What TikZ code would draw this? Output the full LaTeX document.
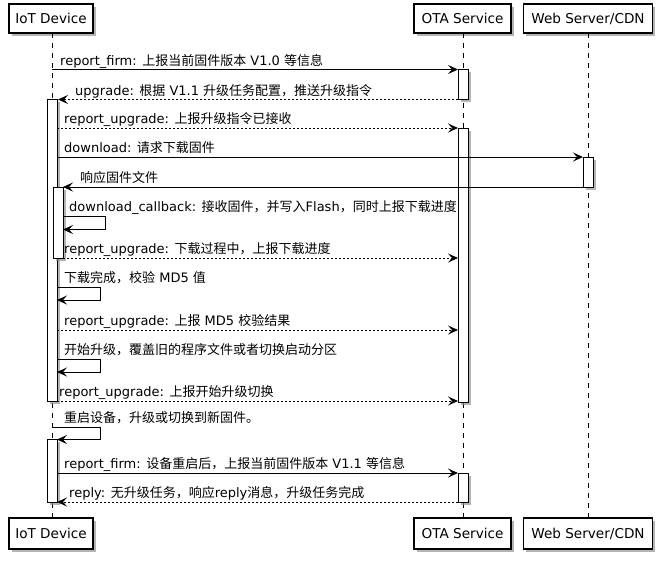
\documentclass[tikz,border=0pt]{standalone}
\usepackage{fontspec}
\setmainfont{DejaVu Sans}
\newfontfamily\cjk{Noto Sans CJK SC}
\newcommand\zh[1]{{\cjk #1}}
\usetikzlibrary{arrows.meta,shadows}
\begin{document}
\begin{tikzpicture}[x=1pt,y=-1pt,
  shad/.style={drop shadow={shadow xshift=2.5pt,shadow yshift=-2.5pt,fill=black!45,opacity=0.65}},
  part/.style={draw,line width=1.2pt,fill=white,inner sep=0pt,shad,font=\fontsize{13.6}{16}\selectfont},
  life/.style={line width=0.9pt,dash pattern=on 5pt off 5pt},
  act/.style={draw,line width=1pt,fill=white,shad},
  msg/.style={line width=1pt,-{Stealth[length=10pt,width=9pt,inset=4pt]}},
  rmsg/.style={msg,dash pattern=on 2pt off 2pt},
  lbl/.style={anchor=base west,inner sep=0pt,font=\fontsize{13}{15}\selectfont}]
\useasboundingbox[fill=white] (0,0) rectangle (660,560);
% participants
\node[part,minimum width=84pt,minimum height=29pt] (iotT) at (51,18.5) {IoT Device};
\node[part,minimum width=97pt,minimum height=29pt] (otaT) at (462.5,18.5) {OTA Service};
\node[part,minimum width=129pt,minimum height=29pt] (webT) at (588,18.5) {Web Server/CDN};
\node[part,minimum width=84pt,minimum height=31pt] (iotB) at (51,533.5) {IoT Device};
\node[part,minimum width=97pt,minimum height=31pt] (otaB) at (462.5,533.5) {OTA Service};
\node[part,minimum width=129pt,minimum height=31pt] (webB) at (588,533.5) {Web Server/CDN};
% lifelines
\draw[life] (52,33) coordinate (iL1) -- (52,518) coordinate (iL2);
\draw[life] (463,33) coordinate (oL1) -- (463,518) coordinate (oL2);
\draw[life] (588,33) coordinate (wL1) -- (588,518) coordinate (wL2);
% activations
\draw[act] (47,99.5) rectangle (57,401) ;
\draw[act] (53,187) rectangle (63,258);
\draw[act] (47,439.5) rectangle (57,502);
\draw[act] (458,69.5) rectangle (468,99.5);
\draw[act] (458,128) rectangle (468,402);
\draw[act] (458,473) rectangle (468,502);
\draw[act] (583,157) rectangle (593,187);
% messages
\path (52,69.5) coordinate (a1) (458,69.5) coordinate (b1);
\draw[msg] (a1) -- (b1);
\node[lbl] (t1) at (60,65) {report\_firm: \zh{上报当前固件版本} V1.0 \zh{等信息}};

\path (458,99.5) coordinate (a2) (58,99.5) coordinate (b2);
\draw[rmsg] (a2) -- (b2);
\node[lbl] (t2) at (75,95) {upgrade: \zh{根据} V1.1 \zh{升级任务配置，推送升级指令}};

\path (57,128) coordinate (a3) (458,128) coordinate (b3);
\draw[rmsg] (a3) -- (b3);
\node[lbl] (t3) at (64,123.5) {report\_upgrade: \zh{上报升级指令已接收}};

\path (57,157) coordinate (a4) (583,157) coordinate (b4);
\draw[msg] (a4) -- (b4);
\node[lbl] (t4) at (64,152.5) {download: \zh{请求下载固件}};

\path (583,187) coordinate (a5) (63,187) coordinate (b5);
\draw[msg] (a5) -- (b5);
\node[lbl] (t5) at (80,182.5) {\zh{响应固件文件}};

\path (63,216.5) coordinate (a6) (105,216.5) coordinate (c6) (105,229.5) coordinate (d6) (63,229.5) coordinate (b6);
\draw[msg] (a6) -- (c6) -- (d6) -- (b6);
\node[lbl] (t6) at (69,211.5) {download\_callback: \zh{接收固件，并写入}Flash\zh{，同时上报下载进度}};

\path (63,258) coordinate (a7) (458,258) coordinate (b7);
\draw[rmsg] (a7) -- (b7);
\node[lbl] (t7) at (64,253.5) {report\_upgrade: \zh{下载过程中，上报下载进度}};

\path (57,287.5) coordinate (a8) (100,287.5) coordinate (c8) (100,300) coordinate (d8) (57,300) coordinate (b8);
\draw[msg] (a8) -- (c8) -- (d8) -- (b8);
\node[lbl] (t8) at (64,282.5) {\zh{下载完成，校验} MD5 \zh{值}};

\path (57,330) coordinate (a9) (458,330) coordinate (b9);
\draw[rmsg] (a9) -- (b9);
\node[lbl] (t9) at (64,325.5) {report\_upgrade: \zh{上报} MD5 \zh{校验结果}};

\path (57,359.5) coordinate (a10) (100,359.5) coordinate (c10) (100,372) coordinate (d10) (57,372) coordinate (b10);
\draw[msg] (a10) -- (c10) -- (d10) -- (b10);
\node[lbl] (t10) at (64,354.5) {\zh{开始升级，覆盖旧的程序文件或者切换启动分区}};

\path (57,401) coordinate (a11) (458,401) coordinate (b11);
\draw[rmsg] (a11) -- (b11);
\node[lbl] (t11) at (59,396.5) {report\_upgrade: \zh{上报开始升级切换}};

\path (52,427) coordinate (a12) (100,427) coordinate (c12) (100,439.5) coordinate (d12) (57,439.5) coordinate (b12);
\draw[msg] (a12) -- (c12) -- (d12) -- (b12);
\node[lbl] (t12) at (64,422) {\zh{重启设备，升级或切换到新固件。}};

\path (57,473) coordinate (a13) (458,473) coordinate (b13);
\draw[msg] (a13) -- (b13);
\node[lbl] (t13) at (64,468.5) {report\_firm: \zh{设备重启后，上报当前固件版本} V1.1 \zh{等信息}};

\path (458,502) coordinate (a14) (57,502) coordinate (b14);
\draw[rmsg] (a14) -- (b14);
\node[lbl] (t14) at (69,497.5) {reply: \zh{无升级任务，响应}reply\zh{消息，升级任务完成}};
\end{tikzpicture}
\end{document}
